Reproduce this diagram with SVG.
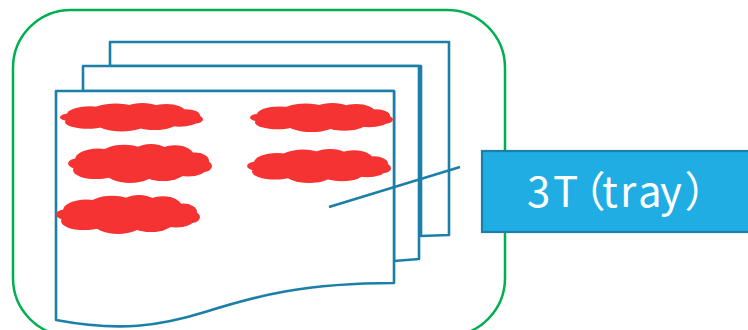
<svg xmlns="http://www.w3.org/2000/svg" width="748" height="330" viewBox="0 0 748 330">
<style>
.doc{fill:#fff;stroke:#1b7fa8;stroke-width:2.6;stroke-linejoin:round}
.cl{fill:#f63333}
.lbl{font-family:"Noto Sans CJK JP","Noto Sans",sans-serif;font-size:42px;fill:#fff;font-feature-settings:"palt"}
</style>
<defs>
<g id="cloud">
<ellipse cx="10" cy="15" rx="10" ry="4"/>
<ellipse cx="30" cy="12" rx="23" ry="8.5"/>
<ellipse cx="56" cy="10" rx="25" ry="9.5"/>
<ellipse cx="83" cy="9.5" rx="21" ry="9.5"/>
<ellipse cx="107" cy="9.5" rx="19" ry="8.5"/>
<ellipse cx="127" cy="13" rx="14" ry="6.5"/>
<ellipse cx="136" cy="17" rx="8" ry="4.5"/>
<ellipse cx="28" cy="20" rx="23" ry="7"/>
<ellipse cx="62" cy="21" rx="25" ry="9"/>
<ellipse cx="95" cy="20" rx="23" ry="8.5"/>
<ellipse cx="120" cy="19" rx="18" ry="6"/>
<ellipse cx="72" cy="15.5" rx="63" ry="10.5"/>
</g>
</defs>
<g id="tray-frame">
<rect x="13" y="10" width="492" height="326" rx="58" ry="58" fill="none" stroke="#00b050" stroke-width="2.5"/>
</g>
<g id="documents">
<path class="doc" d="M110,42 H449 V235 L421,236 V66 H110 Z"/>
<path class="doc" d="M83,66 H419 V259 L394,261 V91 H83 Z"/>
<path class="doc" d="M56,91 H394 V283 C305,283 255,296 205,312 C160,326 120,332 56,320 Z"/>
</g>
<g id="samples" class="cl">
<use href="#cloud" transform="translate(60,103) scale(0.993,0.95)"/>
<use href="#cloud" transform="translate(68,144) scale(1,1.3)"/>
<use href="#cloud" transform="translate(56,195) scale(1,1.3)"/>
<use href="#cloud" transform="translate(250,103) scale(0.993,0.97)"/>
<use href="#cloud" transform="translate(247,149) scale(1,1.13)"/>
</g>
<g id="connectors">
<line x1="329" y1="207" x2="460" y2="167" stroke="#1b7fa8" stroke-width="2.6"/>
</g>
<g id="label-3T">
<rect x="482" y="151" width="270" height="81" fill="#1fade3" stroke="#1b7fa8" stroke-width="2.2"/>
<text class="lbl" x="527 553 583 602 620 638 660 686" y="207">3T（tray）</text>
</g>
</svg>
